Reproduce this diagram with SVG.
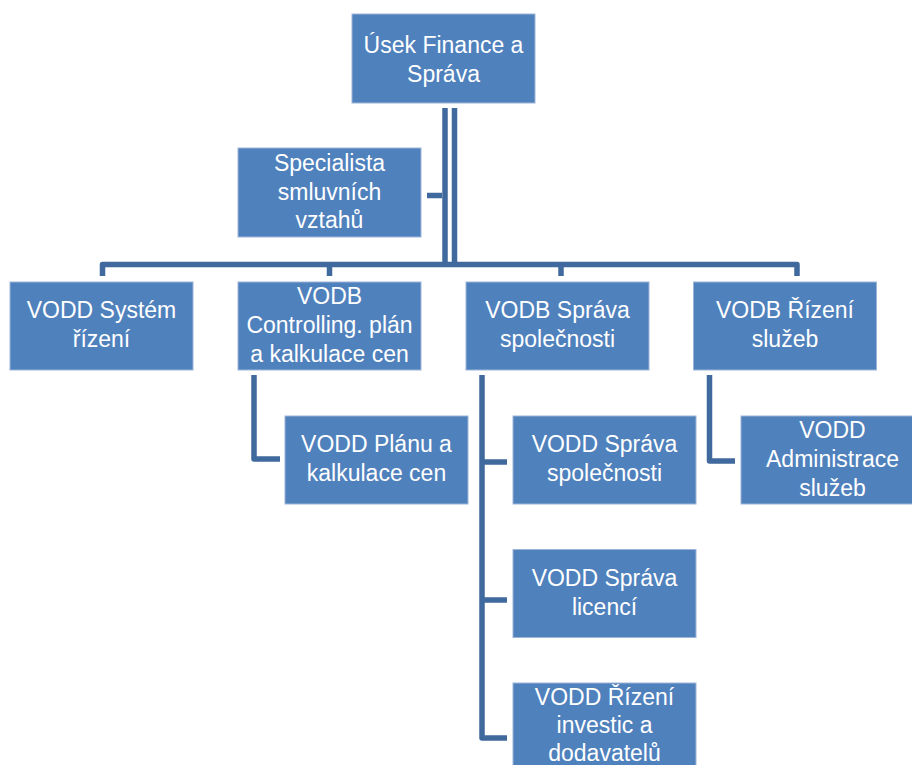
<svg xmlns="http://www.w3.org/2000/svg" width="912" height="765" viewBox="0 0 912 765">
  <style>
    .box { fill: #4F81BD; stroke: #9DB6D7; stroke-width: 1; }
    .lbl { fill: #FFFFFF; font-family: "Liberation Sans", "DejaVu Sans", sans-serif; font-size: 23px; text-anchor: middle; }
    .conn { fill: none; stroke: #40699D; stroke-width: 5.5; stroke-linejoin: round; }
  </style>
  <rect width="912" height="765" fill="#FFFFFF"/>

  <!-- connectors -->
  <g id="connectors">
    <!-- trunk from the head unit -->
    <line class="conn" x1="445" y1="108" x2="445" y2="266" stroke-width="9.5"/>
    <line class="conn" x1="454.5" y1="108" x2="454.5" y2="266" stroke-width="5"/>
    <!-- staff position -->
    <line class="conn" x1="427" y1="195.5" x2="442" y2="195.5"/>
    <!-- bus to the four departments -->
    <path class="conn" d="M102.5 276 V264.5 H797 V276"/>
    <line class="conn" x1="329.5" y1="264.5" x2="329.5" y2="276"/>
    <line class="conn" x1="561" y1="264.5" x2="561" y2="276"/>
    <!-- controlling sub-unit -->
    <path class="conn" d="M254 375 V459 H280"/>
    <!-- company administration sub-units -->
    <path class="conn" d="M482 375 V738 H507"/>
    <line class="conn" x1="482" y1="462" x2="507" y2="462"/>
    <line class="conn" x1="482" y1="600" x2="507" y2="600"/>
    <!-- services sub-unit -->
    <path class="conn" d="M709.5 375 V461 H735"/>
  </g>

  <g id="n-finance">
    <rect class="box" x="352" y="14" width="183" height="89"/>
    <text class="lbl" x="443.5" y="53">Úsek Finance a</text>
    <text class="lbl" x="443.5" y="82">Správa</text>
  </g>

  <g id="n-specialista">
    <rect class="box" x="238" y="148" width="183" height="89"/>
    <text class="lbl" x="329.5" y="171">Specialista</text>
    <text class="lbl" x="329.5" y="200">smluvních</text>
    <text class="lbl" x="329.5" y="228">vztahů</text>
  </g>

  <g id="n-system">
    <rect class="box" x="10" y="282" width="183" height="88"/>
    <text class="lbl" x="101.5" y="318">VODD Systém</text>
    <text class="lbl" x="101.5" y="347">řízení</text>
  </g>

  <g id="n-controlling">
    <rect class="box" x="238" y="282" width="183" height="88"/>
    <text class="lbl" x="329.5" y="304">VODB</text>
    <text class="lbl" x="329.5" y="333">Controlling. plán</text>
    <text class="lbl" x="329.5" y="362">a kalkulace cen</text>
  </g>

  <g id="n-sprava">
    <rect class="box" x="466" y="282" width="183" height="88"/>
    <text class="lbl" x="557.5" y="318">VODB Správa</text>
    <text class="lbl" x="557.5" y="347">společnosti</text>
  </g>

  <g id="n-sluzby">
    <rect class="box" x="693.5" y="282" width="183" height="88"/>
    <text class="lbl" x="785" y="318">VODB Řízení</text>
    <text class="lbl" x="785" y="347">služeb</text>
  </g>

  <g id="n-planu">
    <rect class="box" x="285" y="416" width="183" height="88"/>
    <text class="lbl" x="376.5" y="452">VODD Plánu a</text>
    <text class="lbl" x="376.5" y="481">kalkulace cen</text>
  </g>

  <g id="n-sprava-spol">
    <rect class="box" x="513" y="416" width="183" height="88"/>
    <text class="lbl" x="604.5" y="452">VODD Správa</text>
    <text class="lbl" x="604.5" y="481">společnosti</text>
  </g>

  <g id="n-licence">
    <rect class="box" x="513" y="549.5" width="183" height="88"/>
    <text class="lbl" x="604.5" y="586">VODD Správa</text>
    <text class="lbl" x="604.5" y="615">licencí</text>
  </g>

  <g id="n-investice">
    <rect class="box" x="513" y="683" width="183" height="88"/>
    <text class="lbl" x="604.5" y="705">VODD Řízení</text>
    <text class="lbl" x="604.5" y="733">investic a</text>
    <text class="lbl" x="604.5" y="761">dodavatelů</text>
  </g>

  <g id="n-administrace">
    <rect class="box" x="741" y="416" width="183" height="88"/>
    <text class="lbl" x="832.5" y="438">VODD</text>
    <text class="lbl" x="832.5" y="467">Administrace</text>
    <text class="lbl" x="832.5" y="496">služeb</text>
  </g>
</svg>
